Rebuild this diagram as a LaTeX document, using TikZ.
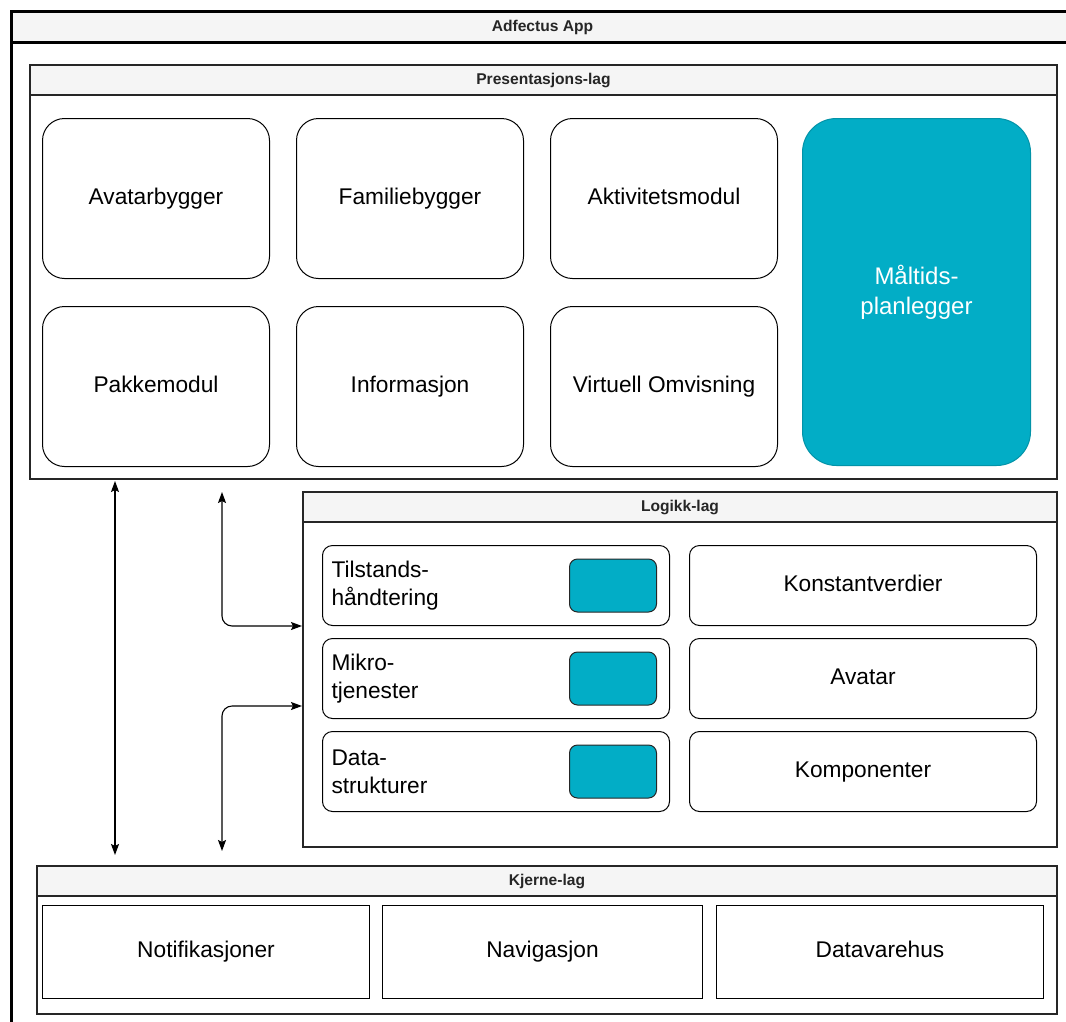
\documentclass[tikz,border=0pt]{standalone}
\usepackage{fontspec}
\setmainfont{Liberation Sans}
\usetikzlibrary{positioning, arrows.meta}
\definecolor{mealteal}{HTML}{02ADC6}
\definecolor{headgray}{HTML}{F5F5F5}

\begin{document}
\begin{tikzpicture}[
        x=1pt, y=-1pt,
        node distance=26pt and 26pt,
        every node/.style={font=\fontsize{22.7}{28}\selectfont},
        layer/.style={rectangle, draw=black!85, line width=2pt, anchor=north west, inner sep=0pt},
        head/.style={rectangle, draw=black!85, line width=2pt, fill=headgray, anchor=north west, inner sep=0pt, minimum height=30pt, text=black!85, font=\fontsize{15.6}{18}\selectfont\bfseries},
        module/.style={rectangle, draw, line width=1pt, rounded corners=22pt, minimum width=227pt, minimum height=160pt, align=center},
        single/.style={text height=16pt, text depth=5pt},
        logic/.style={rectangle, draw, line width=1pt, rounded corners=10pt, minimum width=347pt, minimum height=80pt, align=center},
        stateicon/.style={rectangle, draw=black!85, line width=1pt, fill=mealteal, rounded corners=8pt, minimum width=87pt, minimum height=53pt, anchor=east},
        core/.style={rectangle, draw, line width=1pt, minimum height=93pt, anchor=north west, align=center, text height=16pt, text depth=5pt},
        arrow/.style={{Stealth[length=11pt, width=8pt, inset=2pt]}-{Stealth[length=11pt, width=8pt, inset=2pt]}, line width=1.1pt, rounded corners=10pt}
    ]
        \useasboundingbox (0,0) rectangle (1066,1021);
        \clip (0,0) rectangle (1066,1021);

        % outer app frame
        \node[layer, draw=black, line width=3pt, minimum width=1062pt, minimum height=1020pt] (app) at (10,10) {};
        \node[head, draw=black, line width=3pt, minimum width=1062pt, minimum height=31pt] (apphead) at (10,10) {Adfectus App};

        % presentasjons-lag
        \node[layer, minimum width=1027pt, minimum height=414pt] (pres) at (29,64) {};
        \node[head, minimum width=1027pt] (preshead) at (29,64) {Presentasjons-lag};

        \node[module, single, anchor=north west] (avatarb) at (42,118) {Avatarbygger};
        \node[module, single, right=of avatarb] (familieb) {Familiebygger};
        \node[module, single, right=of familieb] (aktivitet) {Aktivitetsmodul};
        \node[module, single, below=27pt of avatarb] (pakke) {Pakkemodul};
        \node[module, single, right=of pakke] (info) {Informasjon};
        \node[module, single, right=of info] (omvisning) {Virtuell Omvisning};
        \node[module, draw=mealteal!85!black, fill=mealteal, text=white, rounded corners=34pt, minimum width=228pt, minimum height=347pt, anchor=north west, font=\fontsize{24}{30}\selectfont] (maaltid) at (802,118) {Måltids-\\planlegger};

        % logikk-lag
        \node[layer, minimum width=754pt, minimum height=355pt] (logikk) at (302,491) {};
        \node[head, minimum width=754pt] (logikkhead) at (302,491) {Logikk-lag};

        \node[logic, anchor=north west, align=left, text width=329pt] (tilstand) at (322,545) {Tilstands-\\håndtering};
        \node[logic, below=12pt of tilstand, align=left, text width=329pt] (mikro) {Mikro-\\tjenester};
        \node[logic, below=12pt of mikro, align=left, text width=329pt] (datastr) {Data-\\strukturer};
        \node[stateicon] (tilstandicon) at ([xshift=-13pt]tilstand.east) {};
        \node[stateicon] (mikroicon) at ([xshift=-13pt]mikro.east) {};
        \node[stateicon] (datastricon) at ([xshift=-13pt]datastr.east) {};

        \node[logic, single, right=19pt of tilstand] (konst) {Konstantverdier};
        \node[logic, single, right=19pt of mikro] (avatar) {Avatar};
        \node[logic, single, right=19pt of datastr] (komp) {Komponenter};

        % kjerne-lag
        \node[layer, minimum width=1020pt, minimum height=148pt] (kjerne) at (36,865) {};
        \node[head, minimum width=1020pt] (kjernehead) at (36,865) {Kjerne-lag};

        \node[core, minimum width=327pt] (notif) at (42,905) {Notifikasjoner};
        \node[core, minimum width=320pt] (navig) at (382,905) {Navigasjon};
        \node[core, minimum width=327pt] (datavh) at (716,905) {Datavarehus};

        % connectors between the layers
        \coordinate (presout1) at (115,481);
        \coordinate (kjernein1) at (115,855);
        \coordinate (presout2) at (222,492);
        \coordinate (kjernein2) at (222,851);

        \draw[arrow] (presout1) -- (kjernein1);
        \draw[arrow] (presout2) |- ([yshift=43.5pt]logikk.west);
        \draw[arrow] ([yshift=-36.5pt]logikk.west) -| (kjernein2);
    \end{tikzpicture}
\end{document}
